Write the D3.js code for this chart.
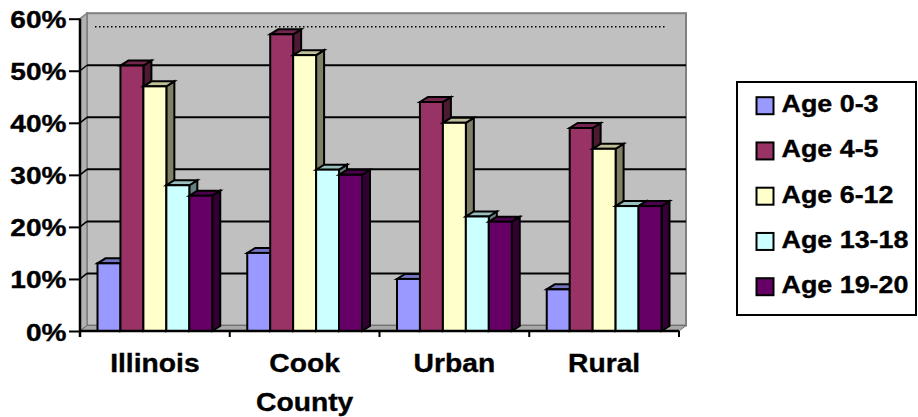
<!DOCTYPE html>
<html>
<head>
<meta charset="utf-8">
<script src="https://cdn.jsdelivr.net/npm/d3@7"></script>
<style>
  body { margin: 0; background: #fff; }
  svg { display: block; }
  text { font-family: "Liberation Sans", Arial, sans-serif; font-weight: bold; fill: #000; stroke: #000; stroke-width: 0.35px; }
</style>
</head>
<body>
<svg id="chart" width="918" height="417"></svg>
<script>
// Share of children by age group, per region
const categories = ["Illinois", "Cook County", "Urban", "Rural"];
const seriesNames = ["Age 0-3", "Age 4-5", "Age 6-12", "Age 13-18", "Age 19-20"];
const illinois   = [0.13, 0.51, 0.47, 0.28, 0.26];
const cookCounty = [0.15, 0.57, 0.53, 0.31, 0.30];
const urban      = [0.10, 0.44, 0.40, 0.22, 0.21];
const rural      = [0.08, 0.39, 0.35, 0.24, 0.24];
const yTicks = [0, 0.1, 0.2, 0.3, 0.4, 0.5, 0.6];
const dottedLevel = 0.574;

const values = [illinois, cookCounty, urban, rural];

const frontColors = ["#9999ff", "#993366", "#ffffcc", "#ccffff", "#660066"];

const svg = d3.select("#chart");

// layout
const axisLeft = 80, axisRight = 679;
const baseY = 331, topY = 18.7;
const wallDx = 7, wallDy = -5.5;   // depth of walls / floor
const barDx = 8, barDy = -5;       // depth of each column

const x = d3.scaleBand().domain(categories).range([axisLeft, axisRight]);
const inner = d3.scaleBand().domain(seriesNames).range([17.5, x.bandwidth() - 17.5]);
const y = d3.scaleLinear().domain([0, 0.6]).range([baseY, topY]);

const shade = (c, k) => { const r = d3.rgb(c); return d3.rgb(r.r * k, r.g * k, r.b * k).formatHex(); };

// stretched bold text helper
function label(g, str, px, py, size, sx, anchor) {
  return g.append("text")
    .attr("transform", `translate(${px},${py}) scale(${sx},1)`)
    .attr("text-anchor", anchor)
    .style("font-size", size + "px")
    .text(str);
}

// ---- walls and floor ----
const walls = svg.append("g");
const wallTop = y(0.6) + wallDy, wallBottom = y(0) + wallDy;
walls.append("rect")
  .attr("x", axisLeft + wallDx).attr("y", wallTop)
  .attr("width", axisRight - axisLeft).attr("height", wallBottom - wallTop)
  .attr("fill", "#c0c0c0").attr("stroke", "#808080").attr("stroke-width", 2);
walls.append("polygon")
  .attr("points", [[axisLeft, y(0)], [axisLeft + wallDx, wallBottom], [axisLeft + wallDx, wallTop], [axisLeft, y(0.6)]].join(" "))
  .attr("fill", "#b2b2b2").attr("stroke", "#808080").attr("stroke-width", 1.5);
walls.append("polygon")
  .attr("points", [[axisLeft, y(0)], [axisRight, y(0)], [axisRight + wallDx, wallBottom], [axisLeft + wallDx, wallBottom]].join(" "))
  .attr("fill", "#a8a8a8").attr("stroke", "#707070").attr("stroke-width", 1);

// gridlines on the back wall and the side wall
const grid = yTicks.filter(t => t > 0 && t < 0.6);
walls.selectAll(".grid").data(grid).join("line")
  .attr("x1", axisLeft + wallDx).attr("x2", axisRight + wallDx)
  .attr("y1", d => y(d) + wallDy).attr("y2", d => y(d) + wallDy)
  .attr("stroke", "#000").attr("stroke-width", 2);
walls.selectAll(".gridside").data(grid).join("line")
  .attr("x1", axisLeft).attr("x2", axisLeft + wallDx)
  .attr("y1", d => y(d)).attr("y2", d => y(d) + wallDy)
  .attr("stroke", "#000").attr("stroke-width", 1.5);

// dotted line near the top of the wall
walls.append("line")
  .attr("x1", axisLeft + 15).attr("x2", axisRight - 12)
  .attr("y1", y(dottedLevel) + wallDy).attr("y2", y(dottedLevel) + wallDy)
  .attr("stroke", "#000").attr("stroke-width", 1.5).attr("stroke-dasharray", "1.5,2.5");

// ---- columns ----
const bars = svg.append("g").attr("stroke", "#000").attr("stroke-width", 2).attr("stroke-linejoin", "miter");
categories.forEach((cat, ci) => {
  seriesNames.forEach((s, si) => {
    const v = values[ci][si];
    const x0 = x(cat) + inner(s), w = inner.bandwidth();
    const yt = y(v), yb = y(0);
    const g = bars.append("g");
    g.append("polygon")  // side
      .attr("points", [[x0 + w, yt], [x0 + w + barDx, yt + barDy], [x0 + w + barDx, yb + barDy], [x0 + w, yb]].join(" "))
      .attr("fill", shade(frontColors[si], 0.5));
    g.append("polygon")  // top
      .attr("points", [[x0, yt], [x0 + w, yt], [x0 + w + barDx, yt + barDy], [x0 + barDx, yt + barDy]].join(" "))
      .attr("fill", shade(frontColors[si], 0.75));
    g.append("rect")     // front
      .attr("x", x0).attr("y", yt).attr("width", w).attr("height", yb - yt)
      .attr("fill", frontColors[si]);
  });
});

// ---- axes ----
const yAxis = svg.append("g")
  .attr("transform", `translate(${axisLeft},0)`)
  .call(d3.axisLeft(y).tickValues(yTicks).tickFormat(d3.format(".0%")).tickSize(11).tickPadding(0));
yAxis.select(".domain").attr("stroke", "#000").attr("stroke-width", 2.5).attr("d", `M0,${y(0.6)}V${y(0) + 6}`);
yAxis.selectAll(".tick line").attr("stroke", "#000").attr("stroke-width", 2);
yAxis.selectAll(".tick text").remove();
yTicks.forEach(t => label(svg, d3.format(".0%")(t), axisLeft - 13.5, y(t) + 9.5, 24, 1.17, "end"));

const xAxis = svg.append("g");
xAxis.append("line")
  .attr("x1", axisLeft).attr("x2", axisRight).attr("y1", y(0)).attr("y2", y(0))
  .attr("stroke", "#000").attr("stroke-width", 2.5);
const bounds = categories.map(c => x(c)).concat([x.range()[1]]);
xAxis.selectAll(".xtick").data(bounds).join("line")
  .attr("x1", d => d).attr("x2", d => d).attr("y1", y(0)).attr("y2", y(0) + 6)
  .attr("stroke", "#000").attr("stroke-width", 2);
categories.forEach(c => {
  const cx = x(c) + x.bandwidth() / 2;
  c.split(" ").forEach((line, li) => label(svg, line, cx, 371.5 + li * 39, 25, 1.13, "middle"));
});

// ---- legend ----
const legend = svg.append("g");
legend.append("rect")
  .attr("x", 737).attr("y", 82).attr("width", 179).attr("height", 233)
  .attr("fill", "#fff").attr("stroke", "#000").attr("stroke-width", 2);
seriesNames.forEach((s, i) => {
  const cy = 105.7 + i * 45.25;
  legend.append("rect")
    .attr("x", 756.5).attr("y", cy - 8.5).attr("width", 17).attr("height", 17)
    .attr("fill", frontColors[i]).attr("stroke", "#000").attr("stroke-width", 2);
  label(legend, s, 781.5, cy + 6.5, 24, 1.12, "start");
});
</script>
</body>
</html>
